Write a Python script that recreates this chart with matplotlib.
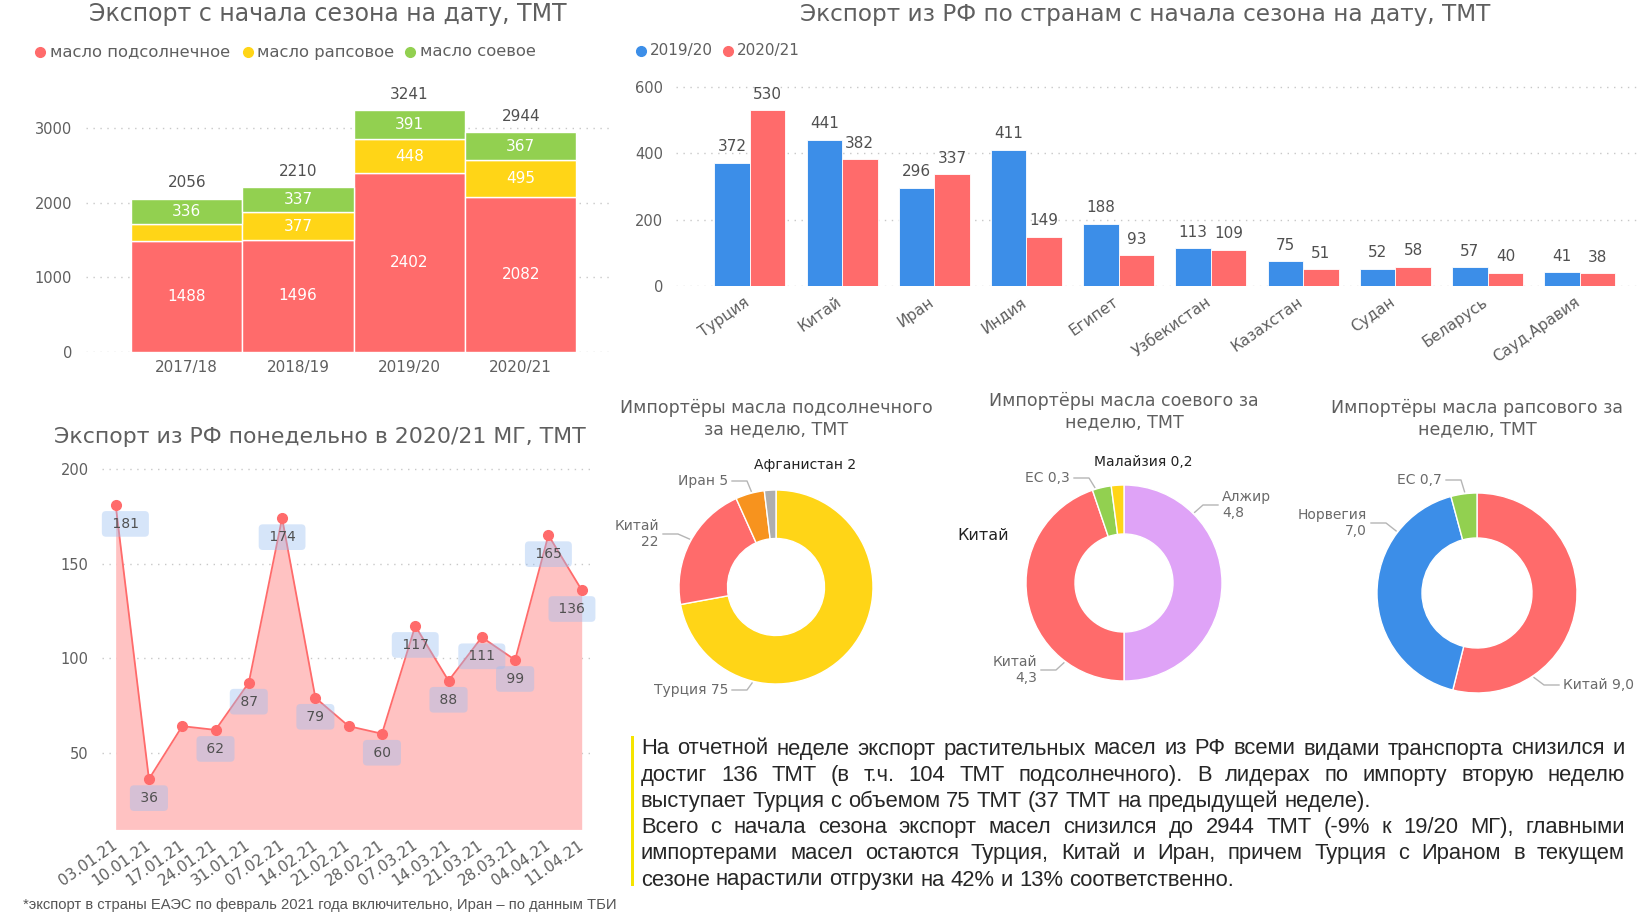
import matplotlib
matplotlib.use('Agg')
import matplotlib.pyplot as plt
from matplotlib.lines import Line2D
from matplotlib.transforms import ScaledTranslation
import numpy as np

W, H = 1638, 915

# --- данные ---
seasons = ['2017/18', '2018/19', '2019/20', '2020/21']
sunflower = [1488, 1496, 2402, 2082]
rapeseed = [232, 377, 448, 495]
soy = [336, 337, 391, 367]
oil_names = ['масло подсолнечное', 'масло рапсовое', 'масло соевое']

countries = ['Турция', 'Китай', 'Иран', 'Индия', 'Египет', 'Узбекистан',
             'Казахстан', 'Судан', 'Беларусь', 'Сауд.Аравия']
exp_1920 = [372, 441, 296, 411, 188, 113, 75, 52, 57, 41]
exp_2021 = [530, 382, 337, 149, 93, 109, 51, 58, 40, 38]

weeks = ['03.01.21', '10.01.21', '17.01.21', '24.01.21', '31.01.21', '07.02.21',
         '14.02.21', '21.02.21', '28.02.21', '07.03.21', '14.03.21', '21.03.21',
         '28.03.21', '04.04.21', '11.04.21']
weekly = [181, 36, 64, 62, 87, 174, 79, 64, 60, 117, 88, 111, 99, 165, 136]

sun_names = ['Турция', 'Китай', 'Иран', 'Афганистан']
sun_vals = [75, 22, 5, 2]
soy_names = ['Алжир', 'Китай', 'ЕС', 'Малайзия']
soy_vals = [4.8, 4.3, 0.3, 0.2]
rape_names = ['Китай', 'Норвегия', 'ЕС']
rape_vals = [9.0, 7.0, 0.7]

para_lines = [
    'На отчетной неделе экспорт растительных масел из РФ всеми видами транспорта снизился и',
    'достиг 136 ТМТ (в т.ч. 104 ТМТ подсолнечного). В лидерах по импорту вторую неделю',
    'выступает Турция с объемом 75 ТМТ (37 ТМТ на предыдущей неделе).',
    'Всего с начала сезона экспорт масел снизился до 2944 ТМТ (-9% к 19/20 МГ), главными',
    'импортерами масел остаются Турция, Китай и Иран, причем Турция с Ираном в текущем',
    'сезоне нарастили отгрузки на 42% и 13% соответственно.',
]
footnote = '*экспорт в страны ЕАЭС по февраль 2021 года включительно, Иран – по данным ТБИ'

RED = '#FF6B6B'
YELLOW = '#FFD517'
GREEN = '#92D050'
BLUE = '#3C8EE8'
VIOLET = '#DFA3F7'
ORANGE = '#F7931E'
GREY = '#AEAEAE'
TXT = '#5F5F5F'
GRID = '#C8C8C8'

plt.rcParams['font.family'] = ['DejaVu Sans']

fig = plt.figure(figsize=(W / 100, H / 100), dpi=100)


def axes_px(left, top, right, bottom):
    return fig.add_axes([left / W, 1 - bottom / H, (right - left) / W, (bottom - top) / H])


def ftext(x, y, s, **kw):
    return fig.text(x / W, 1 - y / H, s, **kw)


def fdot(x, y, color, ms=7):
    fig.add_artist(Line2D([x / W], [1 - y / H], marker='o', ms=ms, color=color,
                          transform=fig.transFigure, lw=0))


def clean(ax):
    for s in ax.spines.values():
        s.set_visible(False)
    ax.grid(axis='y', linestyle=(0, (1, 4)), color=GRID, lw=1)
    ax.set_axisbelow(True)
    ax.tick_params(length=0, colors=TXT)


# ================= 1. Экспорт с начала сезона =================
ftext(328, 14, 'Экспорт с начала сезона на дату, ТМТ', fontsize=17, color=TXT,
      ha='center', va='center')
for (x, tx), name, col in zip([(40, 50), (248, 257), (410, 420)], oil_names, [RED, YELLOW, GREEN]):
    fdot(x, 52, col)
    ftext(tx, 52, name, fontsize=11.8, color=TXT, va='center')

ax1 = axes_px(86, 83.6, 612, 351.7)
xs = np.arange(len(seasons))
bot2 = np.add(sunflower, rapeseed)
totals = bot2 + np.array(soy)
for vals, bottom, col in [(sunflower, 0, RED), (rapeseed, sunflower, YELLOW), (soy, bot2, GREEN)]:
    bars = ax1.bar(xs, vals, bottom=bottom, width=1, color=col, edgecolor='white', lw=1)
    for b, v in zip(bars, vals):
        if v > 300:
            ax1.text(b.get_x() + b.get_width() / 2, b.get_y() + v / 2, str(v),
                     color='white', fontsize=11, ha='center', va='center')
for x, t in zip(xs, totals):
    ax1.annotate(str(t), (x, t), xytext=(0, 11.5), textcoords='offset points',
                 ha='center', va='center', fontsize=11, color='#505050')
ax1.set_xlim(-0.905, 3.82)
ax1.set_ylim(0, 3600)
ax1.set_yticks([0, 1000, 2000, 3000])
ax1.set_xticks(xs)
ax1.set_xticklabels(seasons)
clean(ax1)
ax1.tick_params(axis='y', labelsize=10.5, pad=10)
ax1.tick_params(axis='x', labelsize=11, pad=6)

# ================= 2. Экспорт по странам =================
ftext(1145, 14, 'Экспорт из РФ по странам с начала сезона на дату, ТМТ', fontsize=16.7,
      color=TXT, ha='center', va='center')
for (x, tx), name, col in zip([(641, 650), (728, 737)], ['2019/20', '2020/21'], [BLUE, RED]):
    fdot(x, 51, col)
    ftext(tx, 51, name, fontsize=11, color=TXT, va='center')

ax2 = axes_px(676, 80.2, 1638, 286)
xc = np.arange(len(countries))
bw = 0.385
for vals, off, col in [(exp_1920, -bw / 2, BLUE), (exp_2021, bw / 2, RED)]:
    bars = ax2.bar(xc + off, vals, width=bw, color=col, edgecolor='white', lw=0.6)
    for b, v in zip(bars, vals):
        ax2.annotate(str(v), (b.get_x() + bw / 2, v), xytext=(0, 11.5),
                     textcoords='offset points', ha='center', va='center',
                     fontsize=11, color='#505050')
ax2.set_xlim(-0.80, 9.63)
ax2.set_ylim(0, 620)
ax2.set_yticks([0, 200, 400, 600])
ax2.set_xticks(xc)
ax2.set_xticklabels(countries, rotation=35, ha='right', va='top', rotation_mode='anchor')
clean(ax2)
ax2.tick_params(axis='y', labelsize=10.5, pad=9)
ax2.tick_params(axis='x', labelsize=11, pad=6)
shift = ScaledTranslation(-6 / 100, 0, fig.dpi_scale_trans)
for lab in ax2.get_xticklabels():
    lab.set_transform(lab.get_transform() + shift)

# ================= 3. Понедельный экспорт =================
ftext(320, 437, 'Экспорт из РФ понедельно в 2020/21 МГ, ТМТ', fontsize=15.8,
      color=TXT, ha='center', va='center')
ax3 = axes_px(102, 459.5, 595, 829.4)
ybase = 9.4
xw = np.arange(len(weeks))
ax3.fill_between(xw, weekly, ybase, color='#FFC2C2', lw=0)
ax3.plot(xw, weekly, color=RED, lw=1.3, marker='o', ms=7, zorder=3)
skip = {2, 7}
for i, v in enumerate(weekly):
    if i in skip:
        continue
    dx = 7 if i == 0 else (-7 if i == len(weekly) - 1 else 0)
    ax3.annotate(f' {v} ', (i, v), xytext=(dx, -13.7), textcoords='offset points',
                 ha='center', va='center', fontsize=10, color='#505050', zorder=4,
                 bbox=dict(boxstyle='round,pad=0.42,rounding_size=0.3',
                           fc=(0.6, 0.75, 0.95, 0.4), ec='none'))
ax3.set_xlim(-0.41, 14.4)
ax3.set_ylim(ybase, 205)
ax3.set_yticks([50, 100, 150, 200])
ax3.set_xticks(xw)
ax3.set_xticklabels(weeks, rotation=35, ha='right', va='top', rotation_mode='anchor')
clean(ax3)
ax3.tick_params(axis='y', labelsize=10.5, pad=9.5)
ax3.tick_params(axis='x', labelsize=11, pad=6)
shift3 = ScaledTranslation(-4 / 100, 0, fig.dpi_scale_trans)
for lab in ax3.get_xticklabels():
    lab.set_transform(lab.get_transform() + shift3)

ftext(23, 905, footnote, fontsize=10.6, color='#555555', va='center',
      family=['Liberation Sans', 'DejaVu Sans'])


# ================= 4. Кольцевые диаграммы =================
def donut(cx, cy, r, vals, colors, width, labels, title, ty):
    k = 1.9
    ax = axes_px(cx - k * r, cy - k * r, cx + k * r, cy + k * r)
    ax.pie(vals, colors=colors, startangle=90, counterclock=False, radius=1,
           wedgeprops=dict(width=width, edgecolor='white', linewidth=1))
    ax.set_xlim(-k, k)
    ax.set_ylim(-k, k)
    ax.set_aspect('equal')
    ax.axis('off')
    ftext(cx, ty, title, fontsize=12.5, color=TXT, ha='center', va='center',
          linespacing=1.25)
    for text, lx, ly, side, ang, col, fs in labels:
        px = (lx - cx) / r
        py = (cy - ly) / r
        if ang is None:
            ax.text(px, py, text, ha='center', va='center', fontsize=fs, color=col,
                    clip_on=False)
            continue
        sgn = 1 if side == 'right' else -1
        ax.text(px, py, text, ha=side, va='center', ma=side, fontsize=fs, color=col,
                clip_on=False, linespacing=1.15)
        h0 = px + sgn * 4 / r
        h1 = px + sgn * 19 / r
        a = np.deg2rad(ang)
        ax.plot([h0, h1, 1.02 * np.cos(a)], [py, py, 1.02 * np.sin(a)],
                color='#B5B5B5', lw=1, clip_on=False)


LAB = '#6A6A6A'
donut(776, 587, 97, sun_vals, [YELLOW, RED, ORANGE, GREY], 0.5, [
    (f'{sun_names[2]} {sun_vals[2]}', 728, 481, 'right', 104.5, LAB, 10),
    (f'{sun_names[1]}\n{sun_vals[1]}', 659, 534, 'right', 151, LAB, 10),
    (f'{sun_names[0]} {sun_vals[0]}', 728, 690, 'right', -104, LAB, 10),
    (f'{sun_names[3]} {sun_vals[3]}', 805, 465, None, None, '#222222', 10),
], 'Импортёры масла подсолнечного\nза неделю, ТМТ', 419)


def fmt(v):
    return f'{v:.1f}'.replace('.', ',')


donut(1124, 583, 98, soy_vals, [VIOLET, RED, GREEN, YELLOW], 0.5, [
    (f'{soy_names[2]} {fmt(soy_vals[2])}', 1070, 478, 'right', 107, LAB, 10),
    (f'{soy_names[0]}\n{fmt(soy_vals[0])}', 1222, 505, 'left', 45, LAB, 10),
    (f'{soy_names[1]}\n{fmt(soy_vals[1])}', 1037, 670, 'right', 233, LAB, 10),
    (f'{soy_names[3]} {fmt(soy_vals[3])}', 1143, 462, None, None, '#222222', 10),
    (soy_names[1], 983, 535, None, None, '#222222', 11.5),
], 'Импортёры масла соевого за\nнеделю, ТМТ', 412)

donut(1477, 593, 100, rape_vals, [RED, BLUE, GREEN], 0.45, [
    (f'{rape_names[2]} {fmt(rape_vals[2])}', 1442, 480, 'right', 97, LAB, 10),
    (f'{rape_names[1]}\n{fmt(rape_vals[1])}', 1367, 523, 'right', 142.5, LAB, 10),
    (f'{rape_names[0]} {fmt(rape_vals[0])}', 1563, 685, 'left', -56, LAB, 10),
], 'Импортёры масла рапсового за\nнеделю, ТМТ', 419)

# ================= 5. Комментарий =================
fig.add_artist(plt.Rectangle((630.5 / W, 1 - 886 / H), 3.3 / W, 150 / H,
                             transform=fig.transFigure, color='#F5E400', lw=0))
x0, x1 = 641, 1625
justify = [True, True, False, True, True, False]
pfs = 15.8
renderer = fig.canvas.get_renderer()
for i, (line, just) in enumerate(zip(para_lines, justify)):
    y = 749 + i * 26.2
    words = line.split(' ')
    texts = [ftext(x0, y, w, fontsize=pfs, color='#262626', va='center',
                   family=['Liberation Sans', 'DejaVu Sans']) for w in words]
    widths = [t.get_window_extent(renderer).width for t in texts]
    if just:
        gap = (x1 - x0 - sum(widths)) / (len(words) - 1)
    else:
        gap = 0.278 * pfs * 100 / 72
    pos = x0
    for t, w in zip(texts, widths):
        t.set_x(pos / W)
        pos += w + gap

fig.savefig('out.png', dpi=100)
